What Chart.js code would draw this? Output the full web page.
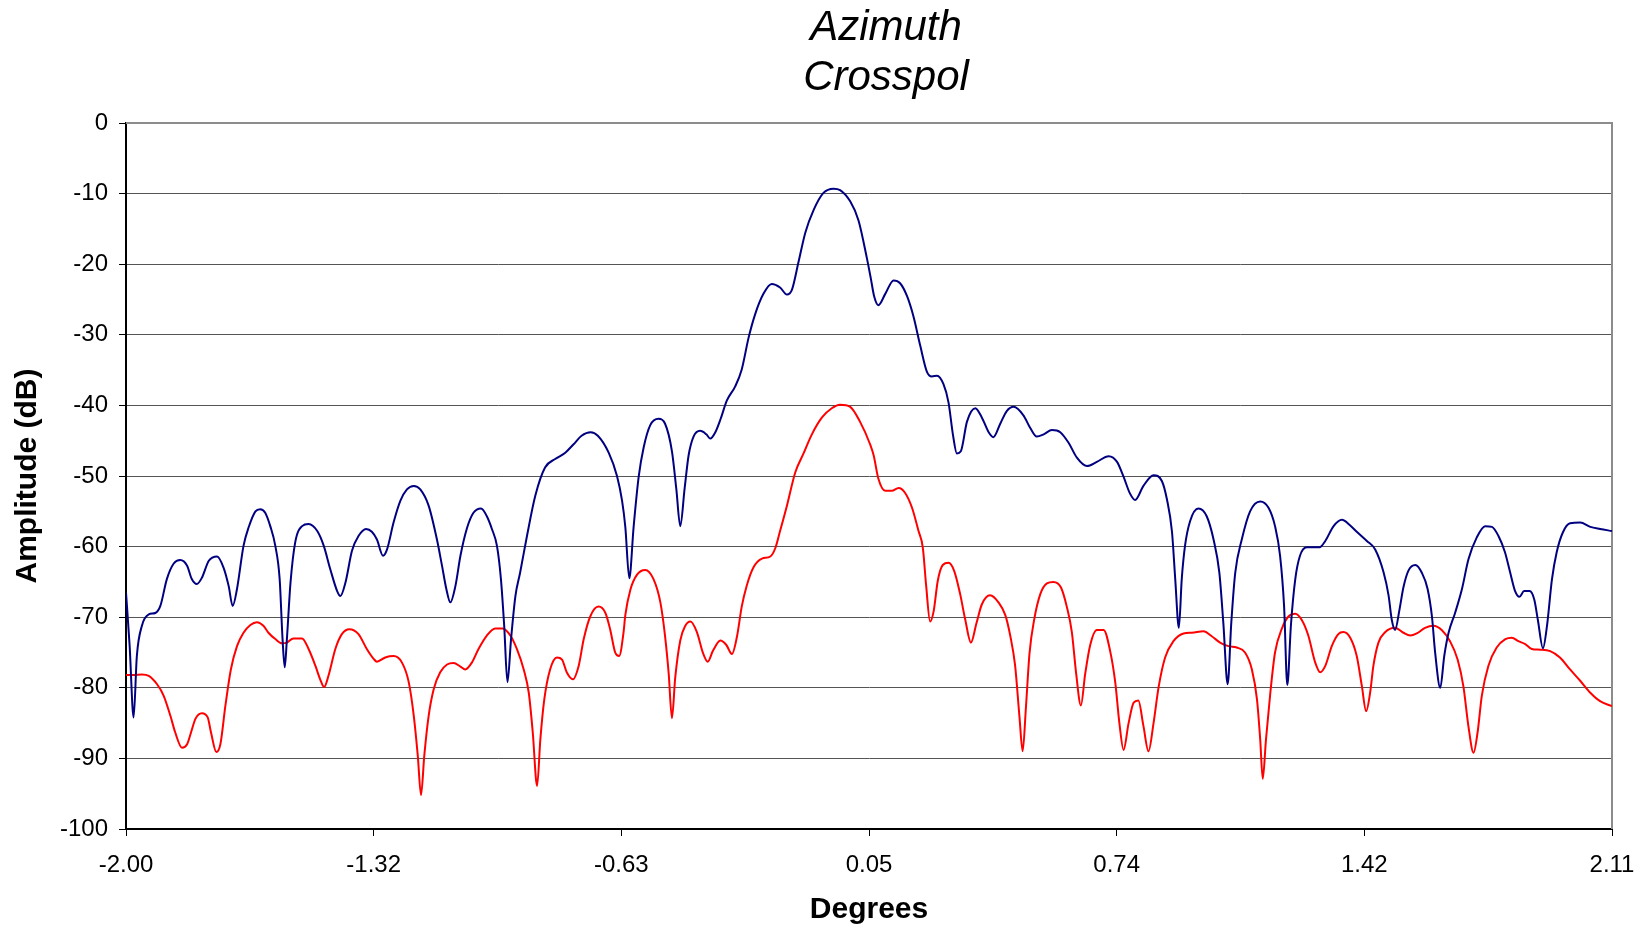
<!DOCTYPE html>
<html>
<head>
<meta charset="utf-8">
<title>Azimuth Crosspol</title>
<script src="https://cdn.jsdelivr.net/npm/chart.js@4.4.1/dist/chart.umd.min.js"></script>
<style>
  html, body { margin: 0; padding: 0; background: #fff; }
  #wrap { width: 1643px; height: 928px; }
</style>
</head>
<body>
<div id="wrap"><canvas id="crosspol_chart"></canvas></div>
<script>
const titleLines = ['Azimuth', 'Crosspol'];
const xTickValues = [-2.00, -1.315, -0.63, 0.055, 0.74, 1.425, 2.11];
const xTickLabels = ['-2.00', '-1.32', '-0.63', '0.05', '0.74', '1.42', '2.11'];

// blue trace: degrees / amplitude (dB)
const blueDeg = [
  -2.000, -1.990, -1.979, -1.970, -1.956, -1.937, -1.919, -1.905, -1.887, -1.868,
  -1.850, -1.831, -1.818, -1.804, -1.790, -1.771, -1.748, -1.730, -1.716, -1.705,
  -1.693, -1.675, -1.661, -1.642, -1.629, -1.615, -1.601, -1.587, -1.575, -1.567,
  -1.561, -1.555, -1.545, -1.532, -1.513, -1.495, -1.471, -1.453, -1.435, -1.416,
  -1.407, -1.393, -1.375, -1.357, -1.336, -1.320, -1.306, -1.289, -1.278, -1.260,
  -1.241, -1.223, -1.204, -1.186, -1.163, -1.140, -1.126, -1.114, -1.103, -1.089,
  -1.075, -1.057, -1.039, -1.018, -1.002, -0.988, -0.974, -0.963, -0.954, -0.945,
  -0.935, -0.923, -0.910, -0.891, -0.868, -0.841, -0.813, -0.785, -0.762, -0.740,
  -0.715, -0.695, -0.665, -0.642, -0.628, -0.619, -0.608, -0.596, -0.582, -0.568,
  -0.550, -0.527, -0.509, -0.490, -0.478, -0.467, -0.455, -0.444, -0.430, -0.412,
  -0.395, -0.384, -0.370, -0.356, -0.338, -0.315, -0.297, -0.278, -0.260, -0.237,
  -0.214, -0.191, -0.172, -0.158, -0.140, -0.121, -0.098, -0.071, -0.043, -0.025,
  0.003, 0.026, 0.049, 0.060, 0.069, 0.081, 0.100, 0.123, 0.141, 0.160,
  0.178, 0.197, 0.215, 0.229, 0.243, 0.261, 0.275, 0.287, 0.298, 0.309,
  0.326, 0.349, 0.367, 0.386, 0.399, 0.418, 0.436, 0.455, 0.482, 0.501,
  0.519, 0.538, 0.561, 0.584, 0.607, 0.630, 0.658, 0.685, 0.718, 0.741,
  0.759, 0.777, 0.791, 0.814, 0.842, 0.865, 0.879, 0.893, 0.902, 0.912,
  0.920, 0.929, 0.943, 0.966, 0.989, 1.008, 1.024, 1.035, 1.047, 1.057,
  1.068, 1.086, 1.109, 1.137, 1.160, 1.178, 1.192, 1.203, 1.212, 1.222,
  1.234, 1.247, 1.266, 1.301, 1.317, 1.340, 1.363, 1.386, 1.404, 1.432,
  1.455, 1.478, 1.492, 1.501, 1.510, 1.522, 1.533, 1.547, 1.566, 1.584,
  1.600, 1.612, 1.621, 1.635, 1.646, 1.658, 1.676, 1.695, 1.713, 1.736,
  1.759, 1.778, 1.796, 1.814, 1.828, 1.842, 1.854, 1.867, 1.882, 1.895,
  1.905, 1.919, 1.930, 1.944, 1.957, 1.974, 1.994, 2.022, 2.050, 2.077,
  2.110
];
const blueDb = [
  -66.5, -74.0, -84.2, -75.5, -71.2, -69.6, -69.4, -68.4, -64.6, -62.4,
  -61.9, -62.7, -64.6, -65.3, -64.4, -62.0, -61.4, -63.0, -65.6, -68.4,
  -66.0, -59.9, -57.3, -55.0, -54.7, -55.2, -57.1, -59.9, -64.6, -73.1,
  -77.1, -73.1, -65.1, -59.4, -57.1, -56.8, -57.8, -59.9, -63.2, -66.3,
  -67.0, -65.1, -60.6, -58.5, -57.5, -57.9, -59.0, -61.3, -60.4, -56.6,
  -53.5, -51.9, -51.4, -51.9, -54.2, -59.0, -62.7, -66.0, -67.9, -65.6,
  -61.3, -57.4, -55.2, -54.6, -55.7, -57.5, -59.9, -64.6, -71.2, -79.2,
  -73.1, -67.0, -63.7, -58.5, -52.8, -48.8, -47.6, -46.7, -45.5, -44.3,
  -43.8, -44.3, -46.7, -50.0, -53.5, -57.2, -64.5, -57.2, -50.1, -45.9,
  -42.8, -41.9, -42.6, -46.5, -51.8, -57.1, -51.8, -47.1, -44.4, -43.6,
  -44.1, -44.7, -43.8, -42.0, -39.3, -37.3, -34.9, -30.4, -27.1, -24.2,
  -22.8, -23.3, -24.3, -23.6, -19.7, -15.5, -12.3, -9.9, -9.3, -9.5,
  -11.1, -13.8, -19.1, -22.0, -24.5, -25.8, -24.2, -22.3, -22.7, -24.5,
  -27.4, -31.6, -35.2, -35.9, -35.8, -37.0, -39.6, -44.1, -46.8, -46.5,
  -42.3, -40.4, -41.7, -43.8, -44.5, -42.6, -40.8, -40.2, -41.4, -43.2,
  -44.4, -44.1, -43.5, -43.8, -45.3, -47.4, -48.6, -48.0, -47.2, -48.0,
  -50.1, -52.5, -53.4, -51.4, -49.9, -50.7, -53.3, -57.9, -64.6, -71.5,
  -64.6, -59.9, -56.4, -54.6, -55.7, -59.0, -63.7, -70.8, -79.5, -70.8,
  -63.7, -59.0, -55.0, -53.6, -54.5, -57.1, -61.3, -68.4, -79.6, -71.1,
  -64.6, -61.3, -60.1, -60.1, -59.2, -57.1, -56.2, -57.0, -57.9, -59.2,
  -60.4, -63.6, -66.9, -70.4, -71.8, -69.0, -65.8, -63.4, -62.6, -63.7,
  -66.0, -69.9, -75.1, -80.0, -75.5, -72.2, -69.4, -66.0, -61.8, -58.7,
  -57.1, -57.2, -58.5, -60.8, -63.6, -66.3, -67.1, -66.3, -66.3, -67.5,
  -70.4, -74.4, -71.3, -64.6, -60.8, -58.0, -56.7, -56.6, -57.2, -57.5,
  -57.8
];

// red trace: degrees / amplitude (dB)
const redDeg = [
  -2.000, -1.979, -1.956, -1.937, -1.914, -1.896, -1.877, -1.864, -1.845, -1.831,
  -1.820, -1.808, -1.790, -1.774, -1.765, -1.750, -1.739, -1.725, -1.710, -1.693,
  -1.675, -1.656, -1.638, -1.620, -1.606, -1.587, -1.569, -1.555, -1.537, -1.513,
  -1.495, -1.476, -1.463, -1.452, -1.440, -1.421, -1.403, -1.382, -1.357, -1.334,
  -1.315, -1.306, -1.283, -1.260, -1.237, -1.218, -1.204, -1.193, -1.184, -1.175,
  -1.163, -1.149, -1.131, -1.112, -1.094, -1.075, -1.062, -1.043, -1.025, -1.002,
  -0.979, -0.958, -0.937, -0.919, -0.900, -0.886, -0.875, -0.863, -0.854, -0.843,
  -0.827, -0.808, -0.794, -0.781, -0.764, -0.748, -0.734, -0.716, -0.693, -0.674,
  -0.661, -0.647, -0.636, -0.624, -0.619, -0.605, -0.587, -0.564, -0.541, -0.522,
  -0.509, -0.499, -0.490, -0.481, -0.467, -0.453, -0.439, -0.421, -0.404, -0.391,
  -0.377, -0.356, -0.340, -0.324, -0.310, -0.297, -0.283, -0.264, -0.241, -0.218,
  -0.204, -0.191, -0.172, -0.149, -0.126, -0.103, -0.075, -0.048, -0.025, 0.003,
  0.030, 0.058, 0.068, 0.081, 0.100, 0.118, 0.137, 0.155, 0.174, 0.192,
  0.204, 0.213, 0.224, 0.234, 0.245, 0.259, 0.275, 0.291, 0.307, 0.321,
  0.337, 0.352, 0.367, 0.390, 0.413, 0.432, 0.446, 0.459, 0.471, 0.480,
  0.489, 0.499, 0.512, 0.529, 0.547, 0.565, 0.586, 0.602, 0.616, 0.628,
  0.641, 0.653, 0.667, 0.685, 0.704, 0.722, 0.736, 0.748, 0.759, 0.773,
  0.787, 0.800, 0.814, 0.828, 0.842, 0.856, 0.874, 0.897, 0.925, 0.948,
  0.980, 1.003, 1.026, 1.049, 1.072, 1.095, 1.114, 1.128, 1.137, 1.144,
  1.153, 1.165, 1.178, 1.197, 1.215, 1.234, 1.252, 1.270, 1.289, 1.303,
  1.317, 1.335, 1.353, 1.367, 1.386, 1.404, 1.418, 1.430, 1.441, 1.450,
  1.464, 1.483, 1.510, 1.533, 1.552, 1.570, 1.593, 1.616, 1.639, 1.662,
  1.683, 1.699, 1.713, 1.727, 1.738, 1.750, 1.768, 1.791, 1.815, 1.833,
  1.851, 1.870, 1.888, 1.911, 1.939, 1.966, 1.994, 2.022, 2.050, 2.077,
  2.110
];
const redDb = [
  -78.2, -78.2, -78.1, -78.3, -79.5, -81.1, -84.0, -86.3, -88.5, -88.0,
  -86.3, -84.4, -83.6, -84.2, -86.3, -89.1, -88.0, -82.5, -77.4, -74.1,
  -72.2, -71.1, -70.7, -71.2, -72.2, -73.1, -73.7, -73.6, -73.0, -73.0,
  -74.5, -76.9, -78.8, -79.9, -78.3, -74.5, -72.4, -71.7, -72.4, -74.5,
  -75.9, -76.3, -75.7, -75.5, -76.4, -79.2, -84.0, -89.6, -95.2, -89.6,
  -84.0, -80.2, -77.8, -76.7, -76.5, -77.0, -77.4, -76.4, -74.5, -72.6,
  -71.6, -71.6, -72.6, -74.5, -77.4, -80.7, -86.3, -93.9, -87.3, -81.6,
  -77.4, -75.7, -76.0, -77.8, -78.8, -76.9, -73.1, -69.9, -68.5, -69.4,
  -71.7, -75.0, -75.5, -72.2, -69.7, -66.1, -64.0, -63.3, -64.6, -67.9,
  -72.7, -78.0, -84.3, -78.6, -73.3, -71.2, -70.6, -72.1, -75.1, -76.3,
  -74.8, -73.3, -73.9, -75.2, -72.7, -68.5, -65.5, -62.9, -61.7, -61.4,
  -60.2, -57.8, -54.2, -49.5, -46.8, -44.1, -41.7, -40.4, -39.9, -40.2,
  -42.3, -45.5, -47.1, -50.4, -52.1, -52.1, -51.7, -52.4, -54.5, -57.8,
  -60.2, -65.5, -70.6, -69.1, -64.9, -62.6, -62.3, -63.5, -66.7, -70.3,
  -73.6, -70.9, -68.2, -66.9, -67.9, -69.7, -72.7, -76.8, -84.0, -89.0,
  -82.8, -75.1, -70.3, -66.7, -65.2, -65.0, -65.8, -68.5, -72.1, -78.0,
  -82.5, -78.0, -73.9, -71.8, -71.8, -74.8, -79.2, -85.2, -88.8, -85.0,
  -82.1, -81.8, -85.4, -89.0, -85.0, -79.9, -75.7, -73.4, -72.3, -72.2,
  -72.0, -72.7, -73.6, -74.1, -74.3, -75.0, -77.4, -81.6, -87.3, -92.9,
  -87.3, -80.7, -75.0, -71.6, -69.9, -69.5, -70.4, -72.6, -76.4, -77.8,
  -76.9, -74.1, -72.4, -72.1, -72.9, -75.5, -79.7, -83.3, -80.7, -76.9,
  -73.6, -72.1, -71.5, -72.2, -72.6, -72.3, -71.5, -71.2, -71.8, -73.4,
  -76.0, -79.8, -85.5, -89.2, -86.4, -81.1, -76.9, -74.3, -73.1, -72.9,
  -73.4, -73.8, -74.5, -74.6, -74.8, -75.7, -77.4, -79.0, -80.7, -81.9,
  -82.6
];

const FONT = "'Liberation Sans', Arial, sans-serif";

function toPoints(xs, ys) {
  return xs.map((x, i) => ({ x: x, y: ys[i] }));
}

// grey top/right edge of the plot area, and the two-line italic title
const framePlugin = {
  id: 'frame',
  beforeDatasetsDraw(chart) {
    const { ctx, chartArea } = chart;
    ctx.save();
    ctx.strokeStyle = '#8c8c8c';
    ctx.lineWidth = 2;
    ctx.beginPath();
    ctx.moveTo(chartArea.left, chartArea.top);
    ctx.lineTo(chartArea.right, chartArea.top);
    ctx.lineTo(chartArea.right, chartArea.bottom);
    ctx.stroke();
    ctx.restore();
  },
  afterDraw(chart) {
    const ctx = chart.ctx;
    ctx.save();
    ctx.fillStyle = '#000';
    ctx.font = 'italic 42px ' + FONT;
    ctx.textAlign = 'center';
    ctx.textBaseline = 'middle';
    titleLines.forEach((t, i) => ctx.fillText(t, 886, 28 + i * 50));
    ctx.restore();
  }
};

new Chart('crosspol_chart', {
  type: 'line',
  data: {
    datasets: [
      {
        data: toPoints(blueDeg, blueDb),
        borderColor: '#000080',
        borderWidth: 2,
        pointRadius: 0,
        cubicInterpolationMode: 'monotone'
      },
      {
        data: toPoints(redDeg, redDb),
        borderColor: '#ff0000',
        borderWidth: 2,
        pointRadius: 0,
        cubicInterpolationMode: 'monotone'
      }
    ]
  },
  options: {
    responsive: true,
    maintainAspectRatio: false,
    animation: false,
    layout: { padding: { left: 0, right: 31, top: 123, bottom: 0 } },
    plugins: {
      legend: { display: false },
      tooltip: { enabled: false }
    },
    scales: {
      x: {
        type: 'linear',
        min: -2,
        max: 2.11,
        afterBuildTicks: scale => {
          scale.ticks = xTickValues.map(v => ({ value: v }));
        },
        afterFit: scale => {
          scale.height = 99;
          // end labels may hang past the plot edges
          scale.paddingLeft = 0;
          scale.paddingRight = 0;
        },
        ticks: {
          callback: (v, i) => xTickLabels[i],
          autoSkip: false,
          maxRotation: 0,
          padding: 15,
          color: '#000',
          font: { family: FONT, size: 24 }
        },
        grid: { drawOnChartArea: false, drawTicks: true, tickLength: 7, color: '#000' },
        border: { color: '#000', width: 2 },
        title: {
          display: true,
          text: 'Degrees',
          color: '#000',
          font: { family: FONT, size: 30, weight: 'bold' },
          padding: { top: 0, bottom: 0 }
        }
      },
      y: {
        min: -100,
        max: 0,
        afterFit: scale => { scale.width = 126; },
        ticks: {
          stepSize: 10,
          padding: 11,
          color: '#000',
          font: { family: FONT, size: 24 }
        },
        grid: { color: '#555', lineWidth: 1, tickLength: 7, tickColor: '#000' },
        border: { color: '#000', width: 2 },
        title: {
          display: true,
          text: 'Amplitude (dB)',
          color: '#000',
          font: { family: FONT, size: 30, weight: 'bold' },
          padding: { top: 10, bottom: 0 }
        }
      }
    }
  },
  plugins: [framePlugin]
});
</script>
</body>
</html>
